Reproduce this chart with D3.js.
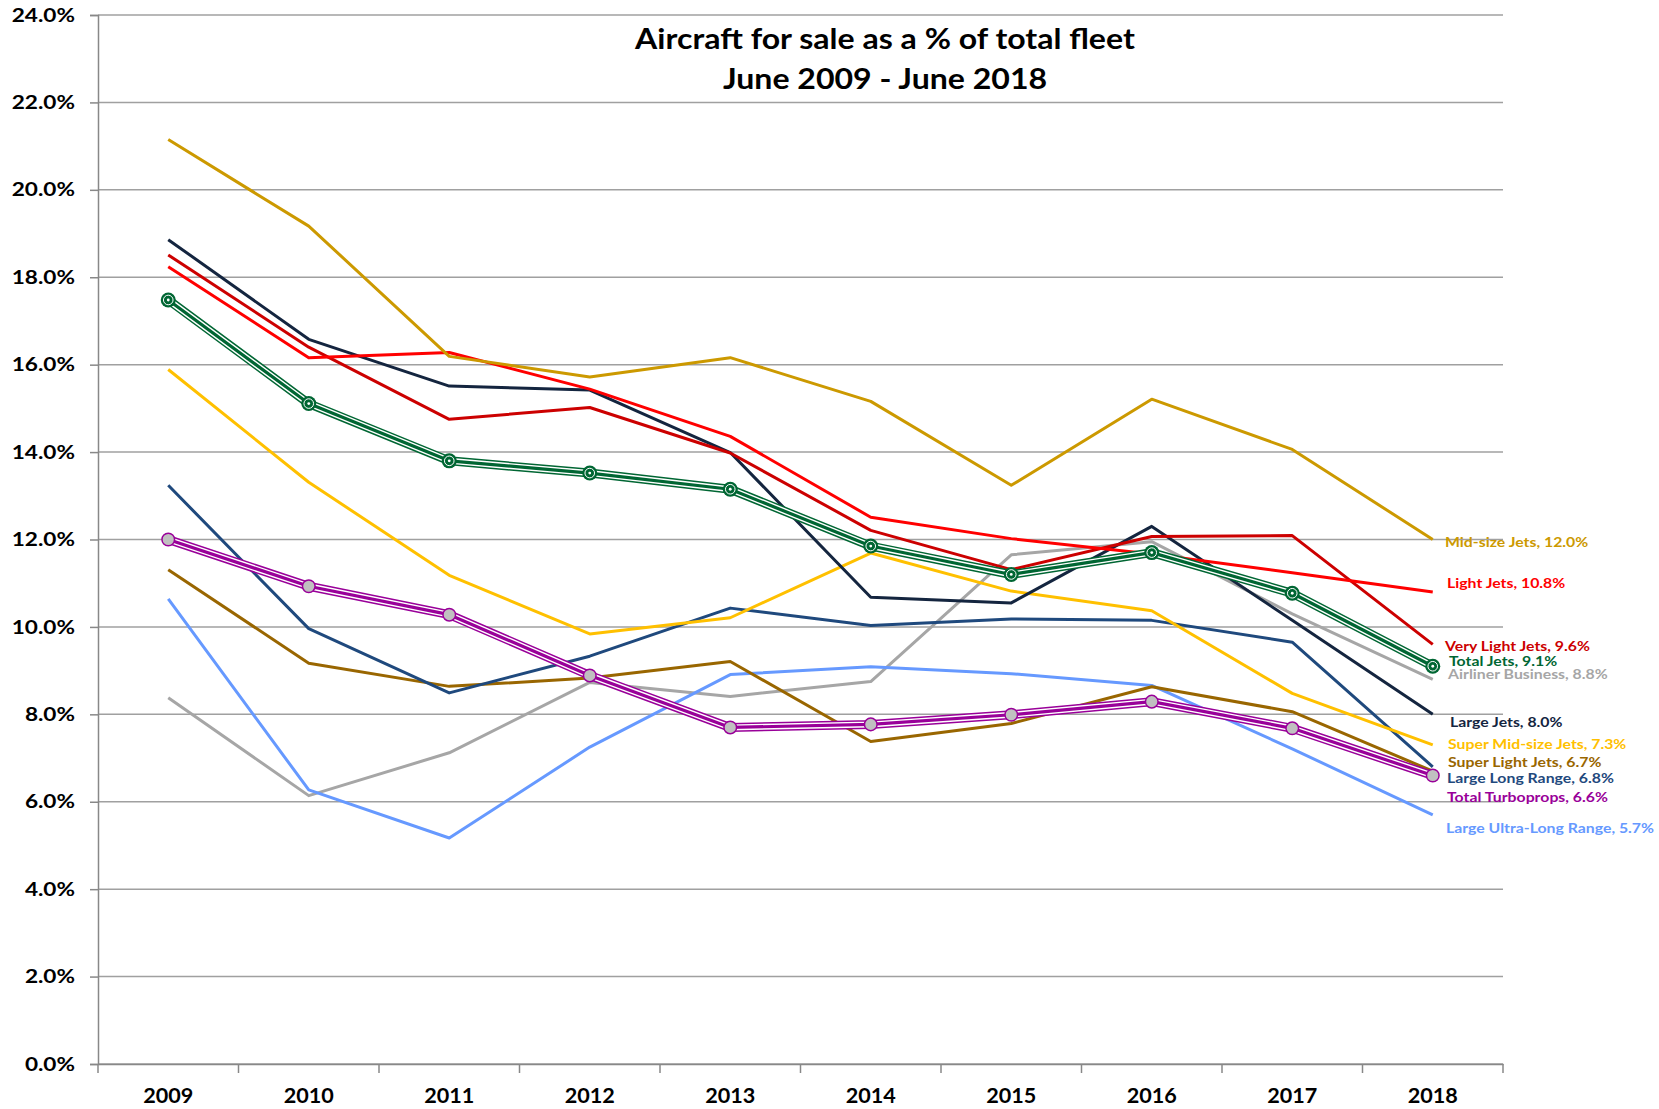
<!DOCTYPE html>
<html>
<head>
<meta charset="utf-8">
<script src="https://cdn.jsdelivr.net/npm/d3@7"></script>
<style>
  html, body { margin: 0; padding: 0; background: #ffffff; }
  svg { display: block; }
  text { font-family: Lato, "Open Sans", sans-serif; font-weight: bold; }
</style>
</head>
<body>
<svg id="chart" width="1659" height="1109"></svg>
<script>
const years = ["2009","2010","2011","2012","2013","2014","2015","2016","2017","2018"];
const yTicks = [0, 2, 4, 6, 8, 10, 12, 14, 16, 18, 20, 22, 24];
const titleLines = ["Aircraft for sale as a % of total fleet", "June 2009 - June 2018"];

const midSizeJets       = [21.15, 19.17, 16.19, 15.72, 16.16, 15.16, 13.24, 15.21, 14.06, 12.0];
const lightJets         = [18.24, 16.16, 16.28, 15.44, 14.36, 12.51, 12.02, 11.67, 11.24, 10.8];
const veryLightJets     = [18.51, 16.40, 14.75, 15.02, 13.98, 12.21, 11.31, 12.07, 12.09, 9.6];
const largeJets         = [18.86, 16.58, 15.51, 15.42, 13.99, 10.68, 10.55, 12.30, 10.15, 8.0];
const totalJets         = [17.48, 15.11, 13.80, 13.52, 13.15, 11.85, 11.20, 11.70, 10.77, 9.1];
const airlinerBusiness  = [8.38, 6.14, 7.12, 8.73, 8.41, 8.75, 11.65, 11.95, 10.30, 8.8];
const superMidSizeJets  = [15.89, 13.31, 11.18, 9.84, 10.21, 11.69, 10.82, 10.37, 8.48, 7.3];
const largeLongRange    = [13.24, 9.96, 8.49, 9.33, 10.43, 10.03, 10.18, 10.15, 9.65, 6.8];
const superLightJets    = [11.31, 9.17, 8.64, 8.83, 9.21, 7.38, 7.79, 8.63, 8.06, 6.7];
const totalTurboprops   = [12.00, 10.93, 10.28, 8.89, 7.70, 7.77, 7.99, 8.29, 7.68, 6.6];
const largeUltraLong    = [10.64, 6.27, 5.17, 7.25, 8.91, 9.09, 8.93, 8.66, 7.21, 5.7];

const seriesNames = ["Airliner Business","Large Ultra-Long Range","Super Light Jets","Large Long Range",
  "Super Mid-size Jets","Large Jets","Very Light Jets","Light Jets","Mid-size Jets","Total Turboprops","Total Jets"];
const seriesValues = [airlinerBusiness, largeUltraLong, superLightJets, largeLongRange,
  superMidSizeJets, largeJets, veryLightJets, lightJets, midSizeJets, totalTurboprops, totalJets];
const seriesColors = ["#A6A6A6","#6699FF","#996600","#1F497D","#FFC000","#14253F","#CC0000","#FF0000","#CC9900","#990099","#006633"];
const seriesStyle  = ["single","single","single","single","single","single","single","single","single","turbo","jets"];

const labelBaselines = {
  "Mid-size Jets": 547, "Light Jets": 588, "Very Light Jets": 651, "Total Jets": 666,
  "Airliner Business": 679, "Large Jets": 727, "Super Mid-size Jets": 749, "Super Light Jets": 767,
  "Large Long Range": 783, "Total Turboprops": 802, "Large Ultra-Long Range": 833
};
const labelX = {
  "Mid-size Jets": 1445, "Light Jets": 1447, "Very Light Jets": 1445, "Total Jets": 1449,
  "Airliner Business": 1448, "Large Jets": 1450, "Super Mid-size Jets": 1448, "Super Light Jets": 1448,
  "Large Long Range": 1447, "Total Turboprops": 1447, "Large Ultra-Long Range": 1446
};

// widen a text horizontally (reference glyphs are wider than Lato's)
function stretch(sel, f) {
  sel.each(function () {
    const len = this.getComputedTextLength();
    d3.select(this).attr("textLength", len * f).attr("lengthAdjust", "spacingAndGlyphs");
  });
}

const svg = d3.select("#chart");
const mLeft = 98, mRight = 1503, mTop = 15, mBottom = 1064;

const x = d3.scaleBand().domain(years).range([mLeft, mRight]).padding(0);
const y = d3.scaleLinear().domain([0, 24]).range([mBottom, mTop]);
const cx = d => x(d) + x.bandwidth() / 2;

svg.append("g").selectAll("line").data(yTicks).join("line")
  .attr("x1", mLeft).attr("x2", mRight)
  .attr("y1", d => y(d)).attr("y2", d => y(d))
  .attr("stroke", "#A0A0A0").attr("stroke-width", 1.5);

const yAxis = d3.axisLeft(y).tickValues(yTicks).tickSize(8).tickPadding(15)
  .tickFormat(d => d.toFixed(1) + "%");
const gy = svg.append("g").attr("transform", `translate(${mLeft},0)`).call(yAxis);
gy.select(".domain").attr("stroke", "#888").attr("stroke-width", 1.5);
gy.selectAll(".tick line").attr("stroke", "#888").attr("stroke-width", 1.5);
gy.selectAll(".tick text").attr("fill", "#000").style("font-size", "19px")
  .style("font-family", "Lato, sans-serif").style("font-weight", "bold");
stretch(gy.selectAll(".tick text"), 1.19);

const xAxis = d3.axisBottom(x).tickSize(0).tickPadding(25);
const gx = svg.append("g").attr("transform", `translate(0,${mBottom})`).call(xAxis);
gx.select(".domain").attr("stroke", "#888").attr("stroke-width", 1.5);
gx.selectAll(".tick text").attr("fill", "#000").style("font-size", "20px")
  .style("font-family", "Lato, sans-serif").style("font-weight", "bold");
stretch(gx.selectAll(".tick text"), 1.08);
const boundaries = years.map(d => x(d)).concat([x(years[years.length - 1]) + x.bandwidth()]);
gx.append("g").selectAll("line").data(boundaries).join("line")
  .attr("x1", d => d).attr("x2", d => d).attr("y1", 0).attr("y2", 9)
  .attr("stroke", "#888").attr("stroke-width", 1.5);

const line = d3.line().x((d, i) => cx(years[i])).y(d => y(d));
const gLines = svg.append("g");
seriesNames.forEach((name, k) => {
  const vals = seriesValues[k], col = seriesColors[k], st = seriesStyle[k];
  if (st === "single") {
    gLines.append("path").datum(vals).attr("d", line)
      .attr("fill", "none").attr("stroke", col).attr("stroke-width", 3)
      .attr("stroke-linejoin", "round");
  } else {
    gLines.append("path").datum(vals).attr("d", line)
      .attr("fill", "none").attr("stroke", col).attr("stroke-width", 9).attr("stroke-linejoin", "round");
    gLines.append("path").datum(vals).attr("d", line)
      .attr("fill", "none").attr("stroke", "#fff").attr("stroke-width", 6).attr("stroke-linejoin", "round");
    gLines.append("path").datum(vals).attr("d", line)
      .attr("fill", "none").attr("stroke", col).attr("stroke-width", 3.2).attr("stroke-linejoin", "round");
    const gm = gLines.append("g");
    if (st === "jets") {
      gm.selectAll("circle.o").data(vals).join("circle").attr("class", "o")
        .attr("cx", (d, i) => cx(years[i])).attr("cy", d => y(d)).attr("r", 7.5).attr("fill", col);
      gm.selectAll("circle.r").data(vals).join("circle").attr("class", "r")
        .attr("cx", (d, i) => cx(years[i])).attr("cy", d => y(d)).attr("r", 4.8)
        .attr("fill", "none").attr("stroke", "#fff").attr("stroke-width", 1);
      gm.selectAll("circle.c").data(vals).join("circle").attr("class", "c")
        .attr("cx", (d, i) => cx(years[i])).attr("cy", d => y(d)).attr("r", 1.4).attr("fill", "#fff");
    } else {
      gm.selectAll("circle").data(vals).join("circle")
        .attr("cx", (d, i) => cx(years[i])).attr("cy", d => y(d)).attr("r", 6.3)
        .attr("fill", "#C0C0C0").attr("stroke", col).attr("stroke-width", 1.5);
    }
  }
});

const gLab = svg.append("g");
seriesNames.forEach((name, k) => {
  const vals = seriesValues[k];
  gLab.append("text")
    .attr("x", labelX[name]).attr("y", labelBaselines[name])
    .attr("fill", seriesColors[k]).style("font-size", "14px")
    .text(`${name}, ${vals[vals.length - 1].toFixed(1)}%`);
});
stretch(gLab.selectAll("text"), 1.13);

const gTitle = svg.append("g");
gTitle.selectAll("text").data(titleLines).join("text")
  .attr("x", 885).attr("y", (d, i) => 49 + i * 40)
  .attr("text-anchor", "middle").style("font-size", "28px").attr("fill", "#000")
  .text(d => d);
stretch(gTitle.selectAll("text"), 1.145);
</script>
</body>
</html>
